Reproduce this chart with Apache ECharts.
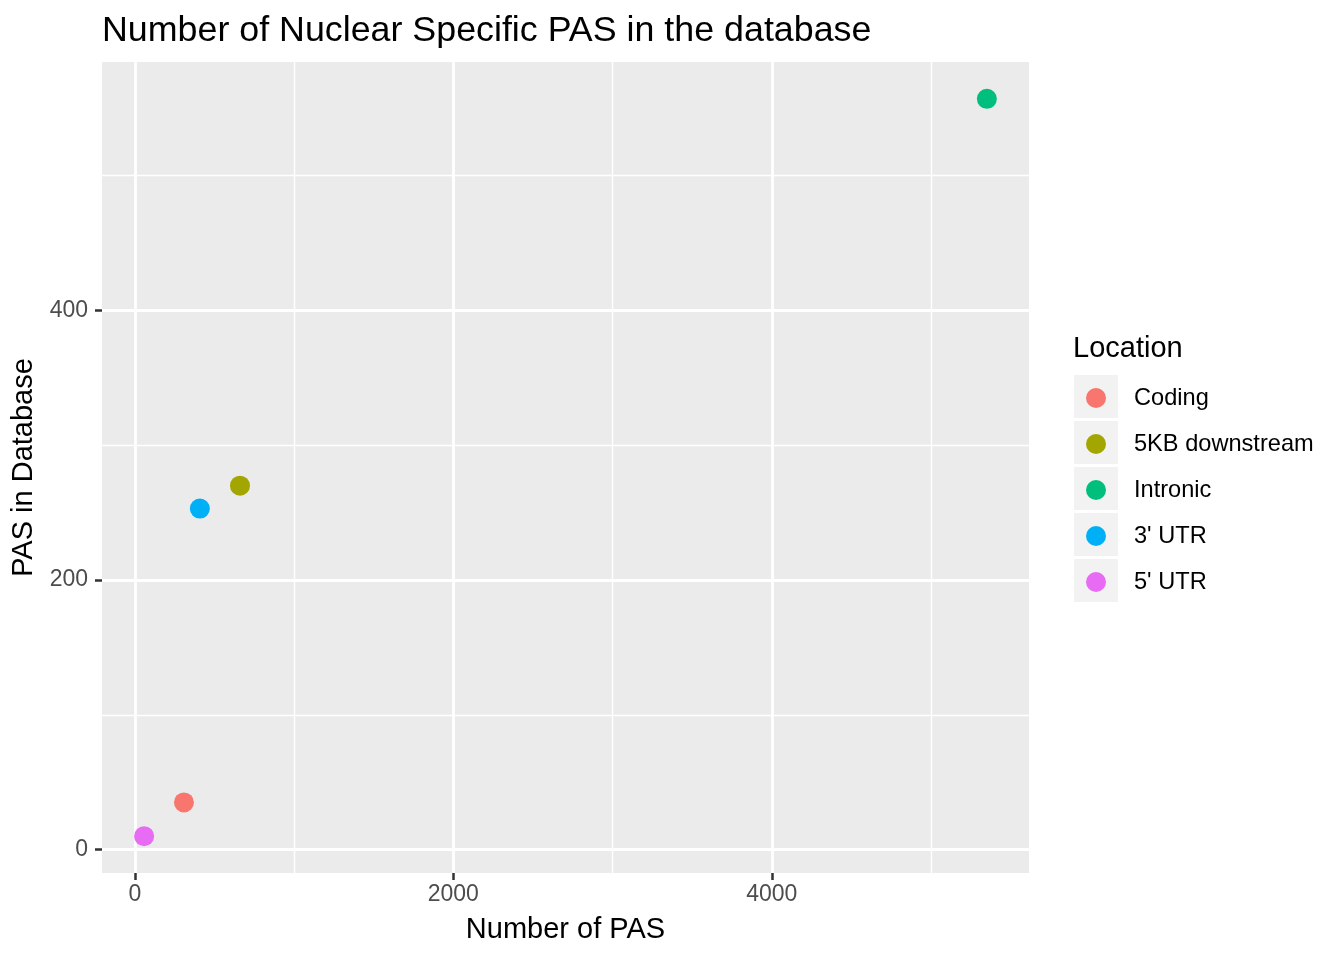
<!DOCTYPE html>
<html>
<head>
<meta charset="utf-8">
<script src="https://cdn.jsdelivr.net/npm/echarts@6/dist/echarts.min.js"></script>
<style>
  html, body { margin: 0; padding: 0; background: #fff; }
  #main { width: 1344px; height: 960px; }
</style>
</head>
<body>
<div id="main"></div>
<script>
// data
var locations = ['Coding', '5KB downstream', 'Intronic', "3' UTR", "5' UTR"];
var numberOfPAS = [308, 660, 5351, 408, 58];
var pasInDatabase = [35, 270, 557, 253, 10];
var colors = ['#F8766D', '#A3A500', '#00BF7D', '#00B0F6', '#E76BF3'];

var xMajor = [0, 2000, 4000];
var xMinor = [1000, 3000, 5000];
var yMajor = [0, 200, 400];
var yMinor = [100, 300, 500];

// ggplot style 5% padding
function expand(vals) {
  var lo = Math.min.apply(null, vals), hi = Math.max.apply(null, vals);
  var pad = (hi - lo) * 0.05;
  return [lo - pad, hi + pad];
}
var xr = expand(numberOfPAS);
var yr = expand(pasInDatabase);

var font = 'Liberation Sans, Arial, sans-serif';

var chart = echarts.init(document.getElementById('main'));

var series = locations.map(function (name, i) {
  return {
    name: name,
    type: 'scatter',
    xAxisIndex: 0,
    yAxisIndex: 0,
    symbolSize: 20,
    itemStyle: { color: colors[i], opacity: 1 },
    emphasis: { disabled: true },
    data: [[numberOfPAS[i], pasInDatabase[i]]]
  };
});

// grey key boxes behind legend symbols
var keys = locations.map(function (name, i) {
  return {
    type: 'rect',
    left: 1074,
    top: 375 + i * 46,
    shape: { width: 44, height: 43 },
    style: { fill: '#F2F2F2' },
    z: -1
  };
});

function axisPair(dim, range, major, minor) {
  var main = {
    type: 'value',
    min: range[0],
    max: range[1],
    axisLine: { show: false, onZero: false },
    axisTick: {
      show: true, length: 7, customValues: major,
      lineStyle: { color: '#333333', width: 2.5 }
    },
    axisLabel: {
      customValues: major, color: '#4D4D4D', fontSize: 23, fontFamily: font,
      margin: dim === 'x' ? 10 : 14,
      formatter: function (v) { return String(v); }
    },
    splitLine: { show: true, lineStyle: { color: '#FFFFFF', width: 2.8 } },
    nameLocation: 'middle',
    nameTextStyle: { color: '#000', fontSize: 29, fontFamily: font },
    nameGap: dim === 'x' ? 42 : 63
  };
  var sub = {
    type: 'value',
    min: range[0],
    max: range[1],
    axisLine: { show: false, onZero: false },
    axisTick: { show: false, customValues: minor },
    axisLabel: { show: false },
    splitLine: { show: true, lineStyle: { color: '#FFFFFF', width: 1.4 } }
  };
  return [main, sub];
}

var xs = axisPair('x', xr, xMajor, xMinor);
xs[0].name = 'Number of PAS';
xs[0].position = 'bottom';
xs[1].position = 'top';
var ys = axisPair('y', yr, yMajor, yMinor);
ys[0].name = 'PAS in Database';
ys[0].position = 'left';
ys[1].position = 'right';

chart.setOption({
  animation: false,
  backgroundColor: '#FFFFFF',
  title: [
    {
      text: 'Number of Nuclear Specific PAS in the database',
      left: 102, top: 13, padding: 0,
      textStyle: { color: '#000', fontSize: 35.8, fontWeight: 'normal', fontFamily: font }
    },
    {
      text: 'Location',
      left: 1073, top: 334, padding: 0,
      textStyle: { color: '#000', fontSize: 29, fontWeight: 'normal', fontFamily: font }
    }
  ],
  grid: {
    left: 102, right: 315, top: 62, bottom: 87,
    show: true, backgroundColor: '#EBEBEB', borderWidth: 0
  },
  xAxis: xs,
  yAxis: ys,
  legend: {
    orient: 'vertical',
    left: 1086, top: 386,
    padding: 0,
    icon: 'circle',
    itemWidth: 20, itemHeight: 20,
    itemGap: 22,
    selectedMode: false,
    textStyle: { color: '#000', fontSize: 23.6, fontFamily: font, padding: [0, 0, 0, 23] },
    data: locations
  },
  graphic: keys,
  series: series
});
</script>
</body>
</html>
